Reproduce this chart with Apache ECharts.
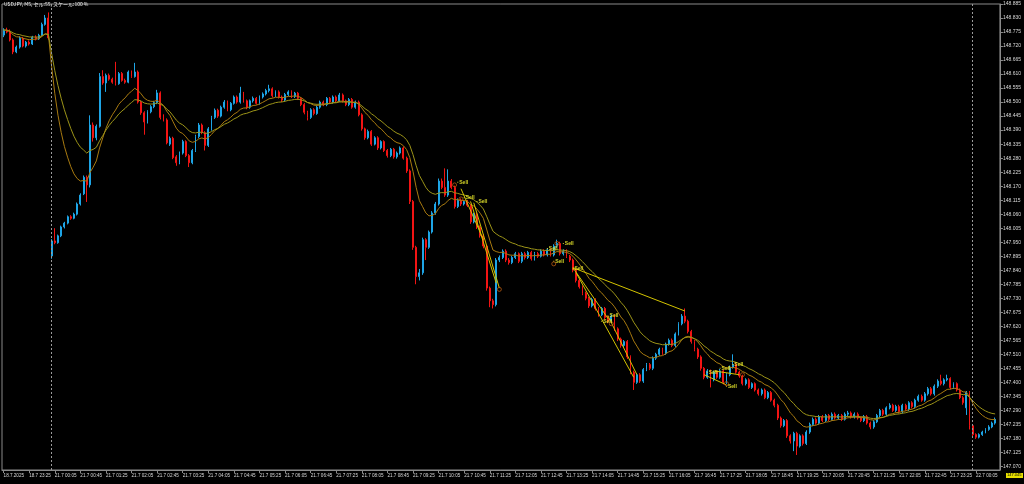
<!DOCTYPE html>
<html><head><meta charset="utf-8">
<style>html,body{margin:0;padding:0;background:#000;}#c{width:1024px;height:484px;}</style>
<script src="https://cdn.jsdelivr.net/npm/echarts@6/dist/echarts.min.js"></script>
</head><body><div id="c"></div>
<script>
// [open, close, low, high] per M5 bar
const ohlc = [
[148.763,148.783,148.755,148.790],[148.783,148.775,148.770,148.792],[148.775,148.744,148.738,148.785],[148.744,148.697,148.688,148.750],
[148.697,148.716,148.692,148.722],[148.716,148.751,148.710,148.758],[148.751,148.720,148.715,148.756],[148.720,148.735,148.714,148.740],
[148.735,148.728,148.722,148.742],[148.728,148.755,148.724,148.760],[148.755,148.748,148.742,148.762],[148.748,148.762,148.744,148.768],
[148.762,148.805,148.758,148.812],[148.805,148.830,148.800,148.842],[148.830,148.752,148.745,148.852],
[147.896,147.955,147.885,147.962],[147.955,147.948,147.942,148.005],[147.948,147.975,147.944,147.980],[147.975,148.010,147.970,148.015],
[148.010,148.025,148.004,148.030],[148.025,148.050,148.020,148.055],[148.050,148.044,148.038,148.056],[148.044,148.060,148.040,148.066],
[148.060,148.100,148.055,148.106],[148.100,148.135,148.094,148.142],[148.140,148.205,148.135,148.212],[148.205,148.175,148.108,148.212],
[148.175,148.410,148.165,148.448],[148.410,148.360,148.345,148.420],[148.360,148.405,148.350,148.412],[148.405,148.600,148.400,148.614],
[148.600,148.575,148.568,148.625],[148.575,148.605,148.540,148.612],[148.605,148.590,148.584,148.612],[148.590,148.578,148.572,148.596],
[148.578,148.572,148.565,148.658],[148.572,148.612,148.568,148.618],[148.612,148.585,148.580,148.618],[148.585,148.578,148.572,148.592],
[148.578,148.618,148.574,148.624],[148.618,148.600,148.595,148.624],[148.600,148.618,148.596,148.654],[148.618,148.500,148.494,148.624],
[148.500,148.458,148.450,148.506],[148.458,148.422,148.372,148.464],[148.422,148.462,148.416,148.468],[148.462,148.482,148.456,148.488],
[148.482,148.498,148.476,148.505],[148.498,148.536,148.492,148.548],[148.536,148.440,148.432,148.542],[148.445,148.430,148.424,148.452],
[148.430,148.340,148.334,148.436],[148.335,148.358,148.328,148.365],[148.358,148.282,148.276,148.364],[148.285,148.262,148.250,148.292],
[148.262,148.300,148.256,148.306],[148.300,148.345,148.294,148.352],[148.345,148.290,148.284,148.350],[148.290,148.262,148.245,148.296],
[148.262,148.310,148.256,148.316],[148.310,148.365,148.304,148.372],[148.365,148.410,148.358,148.418],[148.410,148.380,148.374,148.416],
[148.380,148.330,148.310,148.386],[148.330,148.395,148.324,148.402],[148.395,148.440,148.388,148.446],[148.440,148.468,148.434,148.475],
[148.468,148.445,148.438,148.474],[148.445,148.480,148.440,148.486],[148.480,148.500,148.474,148.508],[148.500,148.470,148.464,148.506],
[148.470,148.495,148.464,148.500],[148.495,148.520,148.490,148.526],[148.520,148.500,148.494,148.526],[148.500,148.535,148.494,148.560],
[148.535,148.505,148.498,148.540],[148.505,148.480,148.472,148.510],[148.480,148.505,148.474,148.510],[148.505,148.515,148.498,148.522],
[148.515,148.495,148.490,148.520],[148.495,148.520,148.490,148.526],[148.520,148.532,148.514,148.538],[148.532,148.545,148.526,148.552],
[148.545,148.552,148.538,148.568],[148.552,148.525,148.518,148.558],[148.525,148.540,148.520,148.546],[148.540,148.520,148.514,148.546],
[148.520,148.508,148.500,148.526],[148.508,148.530,148.502,148.536],[148.530,148.540,148.524,148.546],[148.540,148.522,148.516,148.546],
[148.522,148.535,148.516,148.540],[148.535,148.515,148.508,148.540],[148.515,148.490,148.484,148.520],[148.490,148.460,148.452,148.496],
[148.460,148.440,148.428,148.466],[148.440,148.470,148.434,148.476],[148.470,148.455,148.448,148.476],[148.455,148.480,148.450,148.486],
[148.480,148.500,148.474,148.506],[148.500,148.490,148.484,148.506],[148.490,148.515,148.484,148.520],[148.515,148.500,148.494,148.520],
[148.500,148.520,148.494,148.526],[148.520,148.505,148.498,148.526],[148.505,148.528,148.500,148.536],[148.528,148.505,148.498,148.534],
[148.505,148.490,148.484,148.510],[148.490,148.510,148.484,148.516],[148.510,148.480,148.474,148.516],[148.480,148.500,148.474,148.506],
[148.500,148.450,148.444,148.506],[148.450,148.395,148.388,148.456],[148.395,148.360,148.352,148.400],[148.360,148.385,148.354,148.392],
[148.385,148.335,148.328,148.390],[148.335,148.360,148.330,148.366],[148.360,148.320,148.312,148.366],[148.320,148.345,148.314,148.350],
[148.345,148.310,148.304,148.350],[148.310,148.290,148.282,148.316],[148.290,148.315,148.284,148.320],[148.315,148.285,148.278,148.320],
[148.285,148.300,148.278,148.306],[148.300,148.320,148.294,148.326],[148.320,148.280,148.274,148.326],[148.280,148.230,148.222,148.286],
[148.230,148.110,148.100,148.236],[148.110,147.930,147.920,148.116],[147.930,147.815,147.785,147.936],[147.815,147.830,147.800,147.845],
[147.830,147.960,147.822,147.968],[147.960,147.930,147.880,147.966],[147.930,147.990,147.924,147.996],[147.990,148.065,147.984,148.072],
[148.065,148.100,148.058,148.108],[148.100,148.190,148.094,148.200],[148.190,148.165,148.158,148.200],[148.165,148.135,148.128,148.240],
[148.135,148.190,148.128,148.236],[148.190,148.165,148.158,148.198],[148.165,148.090,148.082,148.172],[148.090,148.115,148.084,148.122],
[148.115,148.100,148.092,148.122],[148.100,148.110,148.094,148.116],[148.110,148.095,148.088,148.116],[148.095,148.030,148.022,148.100],
[148.030,148.060,148.024,148.066],[148.060,148.010,148.002,148.066],[148.010,147.975,147.968,148.016],[147.975,147.935,147.926,147.982],
[147.935,147.770,147.760,147.940],[147.770,147.720,147.695,147.776],[147.720,147.705,147.690,147.728],[147.705,147.880,147.698,147.888],
[147.880,147.890,147.872,147.898],[147.890,147.915,147.884,147.922],[147.915,147.880,147.872,147.922],[147.880,147.870,147.862,147.888],
[147.870,147.890,147.864,147.896],[147.890,147.905,147.884,147.912],[147.905,147.875,147.868,147.910],[147.875,147.905,147.868,147.912],
[147.905,147.890,147.882,147.912],[147.890,147.910,147.884,147.916],[147.910,147.885,147.878,147.916],[147.885,147.905,147.878,147.912],
[147.905,147.895,147.888,147.912],[147.895,147.915,147.890,147.922],[147.915,147.900,147.894,147.922],[147.900,147.920,147.894,147.926],
[147.920,147.900,147.894,147.926],[147.900,147.935,147.894,147.942],[147.935,147.945,147.928,147.960],[147.945,147.905,147.898,147.952],
[147.905,147.915,147.898,147.922],[147.915,147.895,147.888,147.922],[147.895,147.880,147.872,147.900],[147.880,147.840,147.832,147.886],
[147.840,147.800,147.792,147.846],[147.800,147.775,147.768,147.806],[147.775,147.750,147.742,147.780],[147.750,147.730,147.722,147.756],
[147.730,147.700,147.692,147.736],[147.700,147.725,147.694,147.732],[147.725,147.690,147.682,147.730],[147.690,147.665,147.658,147.696],
[147.665,147.690,147.660,147.696],[147.690,147.655,147.648,147.696],[147.655,147.640,147.632,147.662],[147.640,147.660,147.634,147.666],
[147.660,147.610,147.602,147.666],[147.610,147.570,147.562,147.616],[147.570,147.545,147.536,147.576],[147.545,147.560,147.538,147.566],
[147.560,147.500,147.492,147.566],[147.500,147.440,147.432,147.506],[147.440,147.400,147.370,147.446],[147.400,147.430,147.394,147.436],
[147.430,147.405,147.398,147.436],[147.405,147.450,147.398,147.456],[147.450,147.470,147.444,147.476],[147.470,147.455,147.448,147.476],
[147.455,147.495,147.448,147.502],[147.495,147.510,147.488,147.516],[147.510,147.530,147.504,147.536],[147.530,147.515,147.508,147.536],
[147.515,147.550,147.508,147.556],[147.550,147.565,147.544,147.572],[147.565,147.545,147.538,147.572],[147.545,147.590,147.538,147.596],
[147.590,147.630,147.584,147.636],[147.630,147.660,147.624,147.668],[147.660,147.640,147.632,147.690],[147.640,147.600,147.592,147.646],
[147.600,147.560,147.552,147.606],[147.560,147.530,147.522,147.566],[147.530,147.500,147.492,147.536],[147.500,147.455,147.446,147.506],
[147.455,147.420,147.412,147.460],[147.420,147.445,147.414,147.452],[147.445,147.410,147.380,147.450],[147.410,147.440,147.404,147.446],
[147.440,147.420,147.414,147.446],[147.420,147.445,147.414,147.452],[147.445,147.400,147.392,147.450],[147.400,147.430,147.394,147.436],
[147.430,147.460,147.424,147.466],[147.460,147.470,147.454,147.510],[147.470,147.440,147.434,147.476],[147.440,147.425,147.418,147.446],
[147.425,147.395,147.388,147.430],[147.395,147.410,147.388,147.416],[147.410,147.380,147.374,147.416],[147.380,147.395,147.374,147.400],
[147.395,147.370,147.364,147.400],[147.370,147.355,147.348,147.376],[147.355,147.370,147.348,147.376],[147.370,147.340,147.334,147.376],
[147.340,147.360,147.334,147.366],[147.360,147.330,147.324,147.366],[147.330,147.310,147.302,147.336],[147.310,147.260,147.252,147.316],
[147.260,147.230,147.222,147.266],[147.230,147.250,147.224,147.256],[147.250,147.190,147.182,147.256],[147.190,147.170,147.160,147.196],
[147.170,147.200,147.130,147.206],[147.200,147.150,147.115,147.206],[147.150,147.190,147.144,147.196],[147.190,147.160,147.152,147.196],
[147.160,147.205,147.154,147.212],[147.205,147.235,147.198,147.242],[147.235,147.255,147.228,147.262],[147.255,147.240,147.234,147.262],
[147.240,147.265,147.234,147.272],[147.265,147.250,147.244,147.272],[147.250,147.270,147.244,147.276],[147.270,147.255,147.248,147.276],
[147.255,147.275,147.250,147.282],[147.275,147.260,147.254,147.282],[147.260,147.270,147.254,147.276],[147.270,147.255,147.248,147.276],
[147.255,147.275,147.250,147.282],[147.275,147.280,147.268,147.288],[147.280,147.265,147.258,147.286],[147.265,147.275,147.258,147.282],
[147.275,147.260,147.254,147.282],[147.260,147.250,147.244,147.266],[147.250,147.265,147.244,147.272],[147.265,147.240,147.234,147.272],
[147.240,147.225,147.216,147.246],[147.225,147.245,147.218,147.252],[147.245,147.270,147.240,147.276],[147.270,147.290,147.264,147.296],
[147.290,147.275,147.268,147.296],[147.275,147.300,147.268,147.306],[147.300,147.310,147.294,147.318],[147.310,147.290,147.284,147.316],
[147.290,147.305,147.284,147.312],[147.305,147.285,147.278,147.312],[147.285,147.310,147.278,147.316],[147.310,147.295,147.288,147.316],
[147.295,147.320,147.288,147.326],[147.320,147.305,147.298,147.326],[147.305,147.330,147.298,147.336],[147.330,147.345,147.324,147.352],
[147.345,147.330,147.324,147.352],[147.330,147.355,147.324,147.362],[147.355,147.375,147.348,147.382],[147.375,147.355,147.348,147.382],
[147.355,147.385,147.348,147.392],[147.385,147.405,147.378,147.412],[147.405,147.395,147.388,147.430],[147.395,147.410,147.388,147.416],
[147.410,147.415,147.404,147.430],[147.415,147.380,147.372,147.420],[147.380,147.395,147.374,147.400],[147.395,147.370,147.364,147.400],
[147.370,147.340,147.334,147.376],[147.340,147.320,147.312,147.346],[147.300,147.360,147.272,147.366],[147.360,147.230,147.215,147.366],
[147.230,147.195,147.186,147.236],[147.195,147.185,147.178,147.200],[147.185,147.195,147.180,147.200],[147.195,147.205,147.190,147.210],
[147.205,147.215,147.200,147.220],[147.215,147.225,147.210,147.232],[147.225,147.240,147.220,147.246],[147.240,147.255,147.234,147.262]
];

const xTickLabels = ['18.7.2025','18.7 23:25','21.7 00:05','21.7 00:45','21.7 01:25','21.7 02:05','21.7 02:45','21.7 03:25',
'21.7 04:05','21.7 04:45','21.7 05:25','21.7 06:05','21.7 06:45','21.7 07:25','21.7 08:05','21.7 08:45','21.7 09:25',
'21.7 10:05','21.7 10:45','21.7 11:25','21.7 12:05','21.7 12:45','21.7 13:25','21.7 14:05','21.7 14:45','21.7 15:25',
'21.7 16:05','21.7 16:45','21.7 17:25','21.7 18:05','21.7 18:45','21.7 19:25','21.7 20:05','21.7 20:45','21.7 21:25',
'21.7 22:05','21.7 22:45','21.7 23:25','22.7 00:05'];

const yTicks = [147.070,147.125,147.180,147.235,147.290,147.345,147.400,147.455,147.510,147.565,147.620,147.675,
147.730,147.785,147.840,147.895,147.950,148.005,148.060,148.115,148.170,148.225,148.280,148.335,148.390,148.445,
148.500,148.555,148.610,148.665,148.720,148.775,148.830,148.885];

// trades: [entryIndex, entryPrice, exitIndex, exitPrice]
const tradeLines = [
[143,148.160,150,147.960],[146,148.110,154,147.790],[147,148.105,155,147.770],
[178,147.850,213,147.680],[178,147.850,189,147.650],[179,147.830,197,147.420],
[189,147.660,198,147.430],[219,147.430,226,147.390],[222,147.445,230,147.430]
];
const sellLabels = [[142,148.185],[144,148.125],[148,148.110],[170,147.925],[172,147.875],[175,147.945],
[178,147.845],[189,147.660],[187,147.640],[220,147.440],[224,147.455],[228,147.470],[226,147.385]];
const exitMarks = [[141,148.175],[143,148.120],[173,147.945],[172,147.865],[155,147.765],[190,147.630],[226,147.395],[231,147.430]];
const daySeparators = [15,303];
const fastPeriod = 12, slowPeriod = 21;

// bar times (M5)
const categories = [];
function fmt(d){const p=n=>String(n).padStart(2,'0');return d.getUTCDate()+'.'+(d.getUTCMonth()+1)+' '+p(d.getUTCHours())+':'+p(d.getUTCMinutes());}
for (let i=0;i<312;i++){
  const t = i<15 ? Date.UTC(2025,6,18,22,45)+i*300000 : Date.UTC(2025,6,21,0,0)+(i-15)*300000;
  categories.push(fmt(new Date(t)));
}
const closes = ohlc.map(r=>r[1]);
function ema(vals,n){const a=2/(n+1);const out=[];let e=vals[0];for(let i=0;i<vals.length;i++){e= i===0?vals[0]:a*vals[i]+(1-a)*e;out.push(+e.toFixed(4));}return out;}

const chart = echarts.init(document.getElementById('c'), null, {renderer:'canvas'});
chart.setOption({
  animation:false,
  backgroundColor:'#000',
  grid:{left:2,right:20,top:4,bottom:14,show:true,borderColor:'#8a8a8a',borderWidth:1,backgroundColor:'#000'},
  xAxis:{type:'category',data:categories,boundaryGap:true,
    axisLine:{lineStyle:{color:'#8a8a8a'}},
    axisTick:{show:true,alignWithLabel:true,length:3,interval:(i)=>i%8===0,lineStyle:{color:'#8a8a8a'}},
    axisLabel:{interval:(i)=>i%8===0,formatter:(v,i)=>xTickLabels[Math.round(i/8)]||'',align:'left',color:'#d8d8d8',fontSize:4.6,fontFamily:'Liberation Sans',margin:3},
    splitLine:{show:false}},
  yAxis:{type:'value',position:'right',min:147.056,max:148.885,scale:true,
    axisLine:{show:true,lineStyle:{color:'#8a8a8a'}},
    axisTick:{show:true,length:3,customValues:yTicks,lineStyle:{color:'#8a8a8a'}},
    axisLabel:{customValues:yTicks,formatter:v=>v.toFixed(3),color:'#d8d8d8',fontSize:5,fontFamily:'Liberation Sans',margin:3},
    splitLine:{show:false}},
  series:[
    {type:'candlestick',name:'USDJPY',data:ohlc,barWidth:1.4,
     itemStyle:{color:'#1ea5e6',color0:'#f21414',borderColor:'#1ea5e6',borderColor0:'#f21414',borderWidth:1},
     markLine:{silent:true,symbol:'none',label:{show:false},lineStyle:{color:'#9a9a9a',type:[2,2],width:1},
       data:daySeparators.map(i=>({xAxis:i}))}},
    {type:'line',name:'EMA fast',data:ema(closes,fastPeriod),showSymbol:false,lineStyle:{color:'#a87a10',width:1},z:3},
    {type:'line',name:'EMA slow',data:ema(closes,slowPeriod),showSymbol:false,lineStyle:{color:'#9c9418',width:1},z:3},
    {type:'scatter',name:'Sell',data:sellLabels,symbol:'rect',symbolSize:[1,1],itemStyle:{color:'#ffff30'},z:5,
     label:{show:true,formatter:'Sell',position:'right',distance:1,color:'#ffff30',fontSize:5,fontWeight:'bold',fontFamily:'Liberation Sans'},
     markLine:{silent:true,symbol:'none',label:{show:false},lineStyle:{color:'#d4c400',width:1,type:'solid'},
       data:tradeLines.map(t=>[{coord:[t[0],t[1]]},{coord:[t[2],t[3]]}])}},
    {type:'scatter',name:'Exit',data:exitMarks,symbol:'circle',symbolSize:4,itemStyle:{color:'rgba(0,0,0,0)',borderColor:'#b85a10',borderWidth:1},z:5}
  ],
  graphic:[
    {type:'text',left:4,top:2,style:{text:'USDJPY, M5, セル:55, スケール:100 %',fill:'#e8e8e8',fontSize:5,fontFamily:'Noto Sans CJK JP'}},
    {type:'rect',shape:{x:1006,y:473,width:17,height:5},style:{fill:'#e8e000'}},
    {type:'text',left:1007,top:473,style:{text:'147.045',fill:'#000',fontSize:4,fontFamily:'Liberation Sans'}}
  ]
});
</script></body></html>
